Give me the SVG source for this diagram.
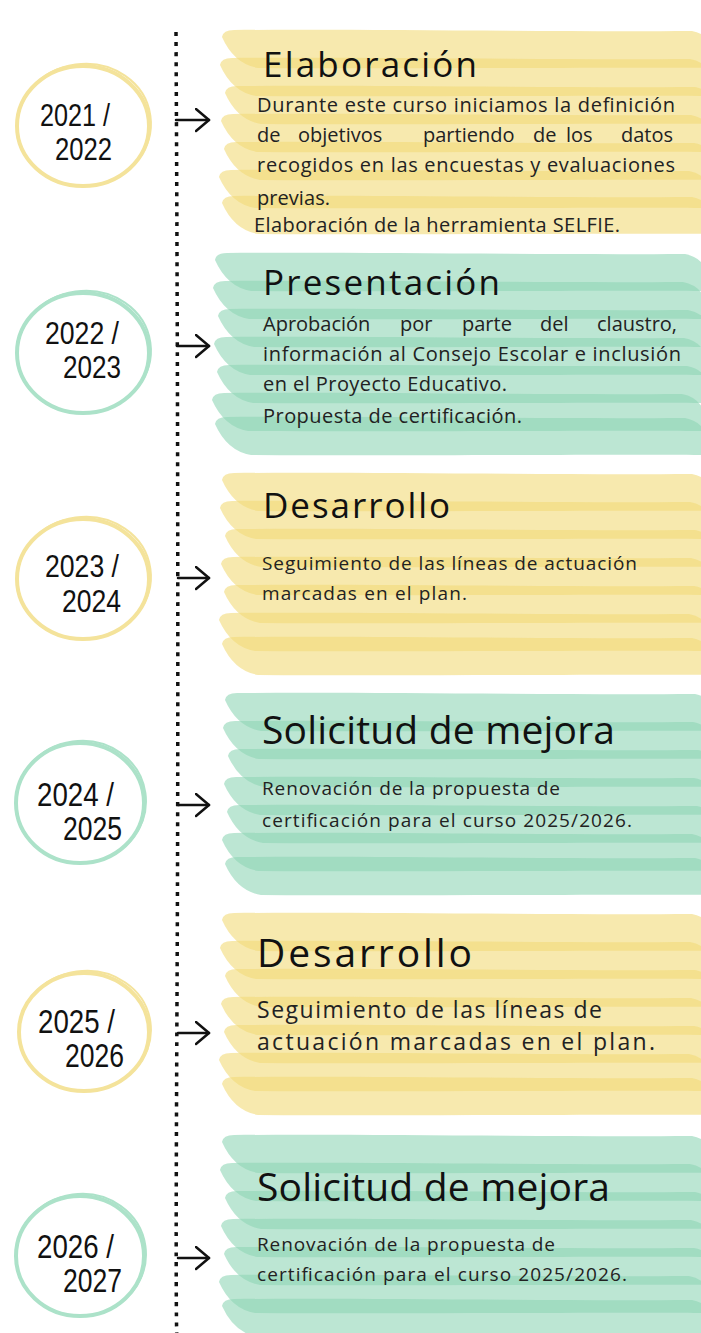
<svg xmlns="http://www.w3.org/2000/svg" xmlns:xlink="http://www.w3.org/1999/xlink" width="701" height="1333" viewBox="0 0 701 1333">
<style>
.y{fill:#F2DA78;fill-opacity:0.6}
.g{fill:#8FD6B5;fill-opacity:0.6}
.cy{fill:none;stroke:#F4E39B}
.cg{fill:none;stroke:#ACE2C9}
.yr{font-family:"Liberation Sans",Arial,sans-serif;font-size:32px;fill:#111}
.t{font-family:"Open Sans","Noto Sans",sans-serif;fill:#111}
.b{font-family:"Open Sans","Noto Sans",sans-serif;fill:#222;font-size:20px}
.dots{fill:none;stroke:#111;stroke-width:3.5;stroke-dasharray:4 6}
.arr{fill:none;stroke:#111;stroke-width:2.5;stroke-linecap:round}
</style>
<defs>
<path id="band" d="M0,7 Q1,0 12,0 C150,-1 330,2 470,1 Q486,4 492,18 L494,38 C400,37 200,39 36,38 Q12,34 0,7 Z"/>
<marker id="ah" markerUnits="userSpaceOnUse" viewBox="0 0 16 26" refX="14" refY="12" markerWidth="16" markerHeight="26" orient="auto">
<path d="M1,1 L14,12 L1,23" fill="none" stroke="#111" stroke-width="2.5" stroke-linecap="round" stroke-linejoin="round"/>
</marker>
</defs>
<rect width="701" height="1333" fill="#fff"/>

<g id="timeline-line">
<path class="dots" d="M176,32 Q179,600 177,1000 T178,1333"/>
</g>

<g id="connectors">
<path class="arr" d="M176,120 H209" marker-end="url(#ah)"/>
<path class="arr" d="M177,346 H209" marker-end="url(#ah)"/>
<path class="arr" d="M178,578 H209" marker-end="url(#ah)"/>
<path class="arr" d="M178,805 H209" marker-end="url(#ah)"/>
<path class="arr" d="M178,1033 H209" marker-end="url(#ah)"/>
<path class="arr" d="M178,1258 H209" marker-end="url(#ah)"/>
</g>

<g id="year-2021">
<ellipse class="cy" cx="83" cy="126" rx="66" ry="60" stroke-width="4"/>
<ellipse class="cy" cx="84" cy="125" rx="67" ry="61" stroke-width="2" transform="rotate(-8 84 125)"/>
<text class="yr" x="40" y="126" textLength="70" lengthAdjust="spacingAndGlyphs">2021 /</text>
<text class="yr" x="55" y="160" textLength="57" lengthAdjust="spacingAndGlyphs">2022</text>
</g>
<g id="year-2022">
<ellipse class="cg" cx="83" cy="353" rx="66" ry="60" stroke-width="4"/>
<ellipse class="cg" cx="84" cy="352" rx="67" ry="61" stroke-width="2" transform="rotate(-8 84 352)"/>
<text class="yr" x="45" y="344" textLength="74" lengthAdjust="spacingAndGlyphs">2022 /</text>
<text class="yr" x="63" y="378" textLength="58" lengthAdjust="spacingAndGlyphs">2023</text>
</g>
<g id="year-2023">
<ellipse class="cy" cx="83" cy="579" rx="66" ry="60" stroke-width="4"/>
<ellipse class="cy" cx="84" cy="578" rx="67" ry="61" stroke-width="2" transform="rotate(-8 84 578)"/>
<text class="yr" x="45" y="577" textLength="74" lengthAdjust="spacingAndGlyphs">2023 /</text>
<text class="yr" x="62" y="612" textLength="59" lengthAdjust="spacingAndGlyphs">2024</text>
</g>
<g id="year-2024">
<ellipse class="cg" cx="80" cy="803" rx="64" ry="60" stroke-width="4"/>
<ellipse class="cg" cx="81" cy="802" rx="65" ry="61" stroke-width="2" transform="rotate(-8 81 802)"/>
<text class="yr" x="37" y="806" textLength="77" lengthAdjust="spacingAndGlyphs" style="font-size:33px">2024 /</text>
<text class="yr" x="63" y="840" textLength="59" lengthAdjust="spacingAndGlyphs" style="font-size:33px">2025</text>
</g>
<g id="year-2025">
<ellipse class="cy" cx="84" cy="1032" rx="65" ry="59" stroke-width="4"/>
<ellipse class="cy" cx="85" cy="1031" rx="66" ry="60" stroke-width="2" transform="rotate(-8 85 1031)"/>
<text class="yr" x="38" y="1033" textLength="77" lengthAdjust="spacingAndGlyphs" style="font-size:33px">2025 /</text>
<text class="yr" x="65" y="1067" textLength="59" lengthAdjust="spacingAndGlyphs" style="font-size:33px">2026</text>
</g>
<g id="year-2026">
<ellipse class="cg" cx="80" cy="1256" rx="64" ry="60" stroke-width="4"/>
<ellipse class="cg" cx="81" cy="1255" rx="65" ry="61" stroke-width="2" transform="rotate(-8 81 1255)"/>
<text class="yr" x="37" y="1258" textLength="77" lengthAdjust="spacingAndGlyphs" style="font-size:33px">2026 /</text>
<text class="yr" x="63" y="1292" textLength="59" lengthAdjust="spacingAndGlyphs" style="font-size:33px">2027</text>
</g>

<g id="box-elaboracion">
<use href="#band" class="y" x="222" y="30"/>
<use href="#band" class="y" x="220" y="58"/>
<use href="#band" class="y" x="225" y="86"/>
<use href="#band" class="y" x="221" y="114"/>
<use href="#band" class="y" x="224" y="142"/>
<use href="#band" class="y" x="219" y="170"/>
<use href="#band" class="y" x="222" y="196"/>
<text class="t" x="263" y="77" font-size="35" textLength="214" lengthAdjust="spacing">Elaboración</text>
<text class="b" x="257" y="112" textLength="418" lengthAdjust="spacing">Durante este curso iniciamos la definición</text>
<text class="b" y="142"><tspan x="257">de</tspan><tspan x="298">objetivos</tspan><tspan x="423">partiendo</tspan><tspan x="533">de</tspan><tspan x="566">los</tspan><tspan x="621">datos</tspan></text>
<text class="b" x="257" y="172" textLength="418" lengthAdjust="spacing">recogidos en las encuestas y evaluaciones</text>
<text class="b" x="257" y="205" textLength="73" lengthAdjust="spacing">previas.</text>
<text class="b" x="254" y="232" textLength="366" lengthAdjust="spacing">Elaboración de la herramienta SELFIE.</text>
</g>

<g id="box-presentacion">
<use href="#band" class="g" x="215" y="253"/>
<use href="#band" class="g" x="213" y="281"/>
<use href="#band" class="g" x="218" y="309"/>
<use href="#band" class="g" x="214" y="337"/>
<use href="#band" class="g" x="217" y="365"/>
<use href="#band" class="g" x="212" y="393"/>
<use href="#band" class="g" x="215" y="417"/>
<text class="t" x="263" y="295" font-size="35" textLength="237" lengthAdjust="spacing">Presentación</text>
<text class="b" y="331"><tspan x="263">Aprobación</tspan><tspan x="400">por</tspan><tspan x="462">parte</tspan><tspan x="540">del</tspan><tspan x="597">claustro,</tspan></text>
<text class="b" x="263" y="361" textLength="418" lengthAdjust="spacing">información al Consejo Escolar e inclusión</text>
<text class="b" x="263" y="391" textLength="244" lengthAdjust="spacing">en el Proyecto Educativo.</text>
<text class="b" x="263" y="423" textLength="259" lengthAdjust="spacing">Propuesta de certificación.</text>
</g>

<g id="box-desarrollo-1">
<use href="#band" class="y" x="222" y="473"/>
<use href="#band" class="y" x="220" y="501"/>
<use href="#band" class="y" x="225" y="529"/>
<use href="#band" class="y" x="221" y="557"/>
<use href="#band" class="y" x="224" y="585"/>
<use href="#band" class="y" x="219" y="613"/>
<use href="#band" class="y" x="222" y="637"/>
<text class="t" x="263" y="518" font-size="35" textLength="187" lengthAdjust="spacing">Desarrollo</text>
<text class="b" x="262" y="570" style="font-size:19px" textLength="375" lengthAdjust="spacing">Seguimiento de las líneas de actuación</text>
<text class="b" x="262" y="600" style="font-size:19px" textLength="205" lengthAdjust="spacing">marcadas en el plan.</text>
</g>

<g id="box-solicitud-1">
<use href="#band" class="g" x="225" y="693"/>
<use href="#band" class="g" x="223" y="721"/>
<use href="#band" class="g" x="228" y="749"/>
<use href="#band" class="g" x="224" y="777"/>
<use href="#band" class="g" x="227" y="805"/>
<use href="#band" class="g" x="222" y="833"/>
<use href="#band" class="g" x="225" y="857"/>
<text class="t" x="262" y="744" font-size="39" textLength="353" lengthAdjust="spacing">Solicitud de mejora</text>
<text class="b" x="262" y="795" style="font-size:19px" textLength="298" lengthAdjust="spacing">Renovación de la propuesta de</text>
<text class="b" x="262" y="827" style="font-size:19px" textLength="370" lengthAdjust="spacing">certificación para el curso 2025/2026.</text>
</g>

<g id="box-desarrollo-2">
<use href="#band" class="y" x="222" y="913"/>
<use href="#band" class="y" x="220" y="941"/>
<use href="#band" class="y" x="225" y="969"/>
<use href="#band" class="y" x="221" y="997"/>
<use href="#band" class="y" x="224" y="1025"/>
<use href="#band" class="y" x="219" y="1053"/>
<use href="#band" class="y" x="222" y="1077"/>
<text class="t" x="257" y="967" font-size="39" textLength="215" lengthAdjust="spacing">Desarrollo</text>
<text class="b" x="257" y="1018" style="font-size:23px" textLength="345" lengthAdjust="spacing">Seguimiento de las líneas de</text>
<text class="b" x="257" y="1050" style="font-size:23px" textLength="398" lengthAdjust="spacing">actuación marcadas en el plan.</text>
</g>

<g id="box-solicitud-2">
<use href="#band" class="g" x="222" y="1135"/>
<use href="#band" class="g" x="220" y="1163"/>
<use href="#band" class="g" x="225" y="1191"/>
<use href="#band" class="g" x="221" y="1219"/>
<use href="#band" class="g" x="224" y="1247"/>
<use href="#band" class="g" x="219" y="1275"/>
<use href="#band" class="g" x="222" y="1299"/>
<text class="t" x="257" y="1201" font-size="39" textLength="353" lengthAdjust="spacing">Solicitud de mejora</text>
<text class="b" x="257" y="1251" style="font-size:19px" textLength="298" lengthAdjust="spacing">Renovación de la propuesta de</text>
<text class="b" x="257" y="1281" style="font-size:19px" textLength="370" lengthAdjust="spacing">certificación para el curso 2025/2026.</text>
</g>
</svg>
